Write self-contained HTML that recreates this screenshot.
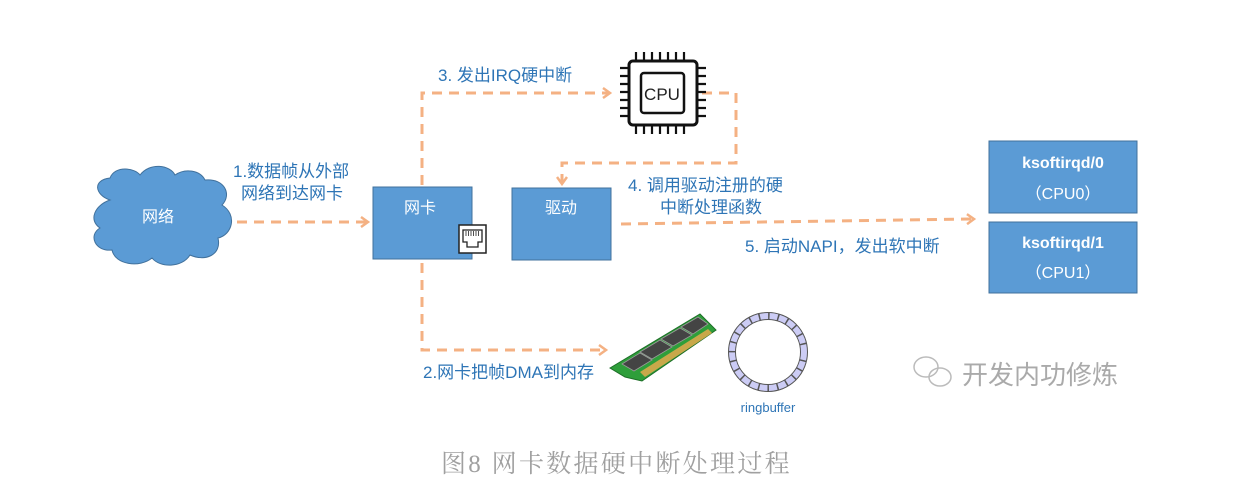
<!DOCTYPE html>
<html><head><meta charset="utf-8"><style>
body{margin:0;background:#fff;}
svg{display:block}
text{font-family:"Liberation Sans","Noto Sans CJK SC",sans-serif;}
.lb{fill:#2e75b6;font-size:17px;}
.wt{fill:#fff;font-size:16px;}
</style></head><body>
<svg width="1235" height="496" viewBox="0 0 1235 496" xmlns="http://www.w3.org/2000/svg">
<defs>
<marker id="ah" markerWidth="12" markerHeight="12" refX="9" refY="6" orient="auto" markerUnits="userSpaceOnUse">
<path d="M2,1 L9,6 L2,11" fill="none" stroke="#f4b183" stroke-width="2.5"/>
</marker>
</defs>
<g fill="#5b9bd5" stroke="#41719c" stroke-width="1">
<path d="M110,200 C95,195 92,180 110,178 C115,165 135,168 140,175 C150,162 170,165 175,175 C185,168 200,170 205,180 C225,178 232,195 222,205 C238,215 232,235 218,238 C222,255 205,262 190,255 C182,268 160,268 152,258 C140,268 115,265 112,250 C95,252 88,235 100,228 C88,220 95,205 110,200 Z"/>
</g>
<text class="wt" x="158" y="222" text-anchor="middle" font-size="17">网络</text>
<g stroke="#f4b183" stroke-width="3" fill="none" stroke-dasharray="10,7">
<path d="M237,222 L368,222" marker-end="url(#ah)"/>
<path d="M422,185 L422,93 L610,93" marker-end="url(#ah)"/>
<path d="M702,93 L736,93 L736,163 L562,163 L562,184" marker-end="url(#ah)"/>
<path d="M422,263 L422,350 L606,350" marker-end="url(#ah)"/>
<path d="M621,224 L974,219" marker-end="url(#ah)"/>
</g>
<rect x="373" y="187" width="99" height="72" fill="#5b9bd5" stroke="#41719c"/>
<text class="wt" x="420" y="213" text-anchor="middle" font-size="17">网卡</text>
<rect x="459" y="225" width="27" height="28" fill="#fff" stroke="#222" stroke-width="1.5"/>
<path d="M463,230 h19 v12 h-4 v5 h-11 v-5 h-4z" fill="none" stroke="#222" stroke-width="1.3"/>
<path d="M466,231 v5 M468.5,231 v5 M471,231 v5 M473.5,231 v5 M476,231 v5 M478.5,231 v5" stroke="#222" stroke-width="0.8"/>
<rect x="512" y="188" width="99" height="72" fill="#5b9bd5" stroke="#41719c"/>
<text class="wt" x="561" y="213" text-anchor="middle" font-size="17">驱动</text>
<rect x="989" y="141" width="148" height="72" fill="#5b9bd5" stroke="#41719c"/>
<text class="wt" x="1063" y="168" text-anchor="middle" font-weight="bold">ksoftirqd/0</text>
<text class="wt" x="1063" y="199" text-anchor="middle">（CPU0）</text>
<rect x="989" y="222" width="148" height="71" fill="#5b9bd5" stroke="#41719c"/>
<text class="wt" x="1063" y="248" text-anchor="middle" font-weight="bold">ksoftirqd/1</text>
<text class="wt" x="1063" y="278" text-anchor="middle">（CPU1）</text>
<g stroke="#111" fill="none">
<rect x="629" y="61" width="68" height="64" rx="4" stroke-width="3"/>
<rect x="641" y="73" width="43" height="40" rx="3" stroke-width="2.5"/>
<g stroke-width="2.2">
<path d="M636,52v8 M644,52v8 M652,52v8 M660,52v8 M668,52v8 M676,52v8 M684,52v8"/>
<path d="M636,126v8 M644,126v8 M652,126v8 M660,126v8 M668,126v8 M676,126v8 M684,126v8"/>
<path d="M620,68h8 M620,76h8 M620,84h8 M620,92h8 M620,100h8 M620,108h8 M620,116h8"/>
<path d="M698,68h8 M698,76h8 M698,84h8 M698,92h8 M698,100h8 M698,108h8 M698,116h8"/>
</g>
</g>
<text x="662" y="100" text-anchor="middle" font-size="17" fill="#222">CPU</text>
<polygon points="610,368 700,314 716,330 642,381 625,377" fill="#2e9e3a" stroke="#1d6e27"/>
<polygon points="640,372 708,329 712,333 645,377" fill="#c8a84a"/>
<g fill="#444" stroke="#999" stroke-width="0.8">
<polygon points="622,364 640,353 652,360 634,371"/>
<polygon points="640,352 660,340 672,347 652,359"/>
<polygon points="661,339 680,328 692,335 673,346"/>
<polygon points="681,327 698,317 708,324 693,334"/>
</g>
<circle cx="768" cy="352" r="36" fill="none" stroke="#555" stroke-width="8"/>
<circle cx="768" cy="352" r="36" fill="none" stroke="#ccccf5" stroke-width="6" stroke-dasharray="8,1.5"/>
<text x="768" y="412" text-anchor="middle" font-size="13" fill="#2e75b6">ringbuffer</text>
<text class="lb" x="233" y="177">1.数据帧从外部</text>
<text class="lb" x="241" y="199">网络到达网卡</text>
<text class="lb" x="438" y="81">3. 发出IRQ硬中断</text>
<text class="lb" x="628" y="191">4. 调用驱动注册的硬</text>
<text class="lb" x="660" y="213">中断处理函数</text>
<text class="lb" x="745" y="252">5. 启动NAPI，发出软中断</text>
<text class="lb" x="423" y="378">2.网卡把帧DMA到内存</text>
<g fill="none" stroke="#bbb" stroke-width="1.5">
<ellipse cx="926" cy="367" rx="12" ry="10"/>
<ellipse cx="940" cy="377" rx="11" ry="9"/>
</g>
<text x="962" y="384" font-size="26" fill="#aaa">开发内功修炼</text>
<text x="441" y="472" font-size="25" fill="#a0a0a0" letter-spacing="2.3" style="font-family:'Liberation Serif','Noto Serif CJK SC',serif">图8 网卡数据硬中断处理过程</text>
</svg>
</body></html>
